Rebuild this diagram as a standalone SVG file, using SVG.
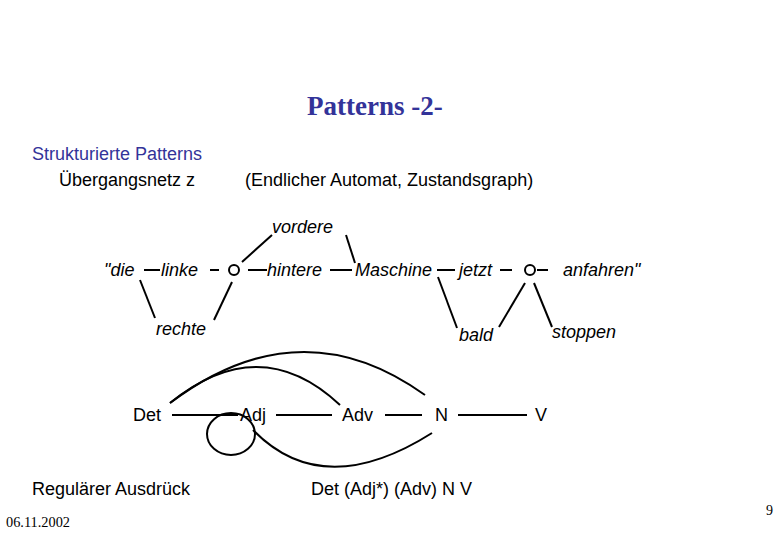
<svg xmlns="http://www.w3.org/2000/svg" width="780" height="540" viewBox="0 0 780 540">
<style>
.t{font-family:"Liberation Sans",Arial,sans-serif;font-size:18px;fill:#000}
.i{font-family:"Liberation Sans",Arial,sans-serif;font-size:18px;font-style:italic;fill:#000}
.b{fill:#333399}
.c{stroke:#000;stroke-width:2;fill:none}
.n{stroke:#000;stroke-width:2;fill:#fff}
</style>
<rect width="780" height="540" fill="#fff"/>
<text x="307" y="115" font-family="Liberation Serif,serif" font-weight="bold" font-size="27" fill="#333399">Patterns -2-</text>
<text class="t b" x="32" y="160">Strukturierte Patterns</text>
<text class="t" x="59" y="186">Übergangsnetz z</text>
<text class="t" x="245" y="186">(Endlicher Automat, Zustandsgraph)</text>

<g id="connectors">
<line class="c" x1="144" y1="270" x2="160" y2="270"/>
<line class="c" x1="210" y1="270" x2="219" y2="270"/>
<line class="c" x1="248" y1="270" x2="267" y2="270"/>
<line class="c" x1="330" y1="270" x2="352" y2="270"/>
<line class="c" x1="242" y1="262" x2="272" y2="235"/>
<line class="c" x1="346" y1="235" x2="355" y2="263"/>
<line class="c" x1="140" y1="280" x2="155" y2="318"/>
<line class="c" x1="232" y1="282" x2="214" y2="320"/>
<line class="c" x1="437" y1="270" x2="455" y2="270"/>
<line class="c" x1="500" y1="270" x2="512" y2="270"/>
<line class="c" x1="537" y1="270" x2="548" y2="270"/>
<line class="c" x1="438" y1="277" x2="457" y2="328"/>
<line class="c" x1="525" y1="283" x2="499" y2="327"/>
<line class="c" x1="534" y1="283" x2="552" y2="327"/>
<line class="c" x1="172" y1="415" x2="238" y2="415"/>
<line class="c" x1="276" y1="415" x2="332" y2="415"/>
<line class="c" x1="385" y1="415" x2="422" y2="415"/>
<line class="c" x1="458" y1="415" x2="527" y2="415"/>
<path class="c" d="M170,403 Q300,305 425,395"/>
<path class="c" d="M170,403 Q260,330 340,405"/>
<ellipse class="c" cx="231" cy="434" rx="24" ry="21"/>
<path class="c" d="M253,430 Q323,502 432,433"/>
</g>

<g id="n-circle1"><circle class="n" cx="234" cy="270" r="5"/></g>
<g id="n-circle2"><circle class="n" cx="530" cy="270" r="5"/></g>
<g id="n-vordere"><text class="i" x="272" y="233">vordere</text></g>
<g id="n-die"><text class="i" x="104" y="276">"die</text></g>
<g id="n-linke"><text class="i" x="161" y="276">linke</text></g>
<g id="n-hintere"><text class="i" x="267" y="276">hintere</text></g>
<g id="n-maschine"><text class="i" x="355" y="276">Maschine</text></g>
<g id="n-jetzt"><text class="i" x="459" y="276">jetzt</text></g>
<g id="n-anfahren"><text class="i" x="563" y="276">anfahren"</text></g>
<g id="n-rechte"><text class="i" x="156" y="335">rechte</text></g>
<g id="n-bald"><text class="i" x="459" y="341">bald</text></g>
<g id="n-stoppen"><text class="i" x="552" y="338">stoppen</text></g>

<g id="n-det"><text class="t" x="133" y="421">Det</text></g>
<g id="n-adj"><text class="t" x="240" y="421">Adj</text></g>
<g id="n-adv"><text class="t" x="342" y="421">Adv</text></g>
<g id="n-n"><text class="t" x="435" y="421">N</text></g>
<g id="n-v"><text class="t" x="535" y="421">V</text></g>

<text class="t" x="32" y="495">Regulärer Ausdrück</text>
<text class="t" x="311" y="495">Det (Adj*) (Adv) N V</text>
<text x="6" y="527" font-family="Liberation Serif,serif" font-size="14" textLength="64" lengthAdjust="spacingAndGlyphs">06.11.2002</text>
<text x="766" y="515" font-family="Liberation Serif,serif" font-size="14">9</text>
</svg>
